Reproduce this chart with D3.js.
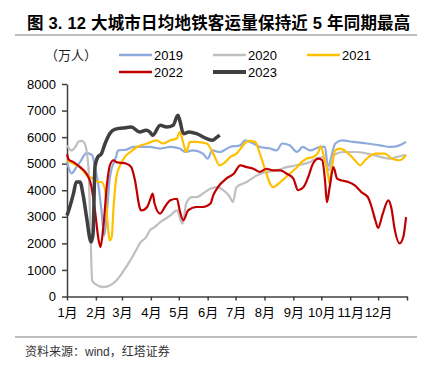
<!DOCTYPE html>
<html>
<head>
<meta charset="utf-8">
<script src="https://cdn.jsdelivr.net/npm/d3@7"></script>
<style>
  body { margin: 0; background: #fff; }
  text { font-family: "Liberation Sans", "Noto Sans CJK SC", sans-serif; }
</style>
</head>
<body>
<svg id="chart" width="437" height="365"></svg>
<script>
const years = ["2019", "2020", "2021", "2022", "2023"]
const colors = ["#8faadc", "#bfbfbf", "#ffc000", "#c00000", "#3f3f3f"]
const monthLabels = ["1月", "2月", "3月", "4月", "5月", "6月", "7月", "8月", "9月", "10月", "11月", "12月"]
const yTicks = [0, 1000, 2000, 3000, 4000, 5000, 6000, 7000, 8000]

// days since 1 Jan, daily subway passengers (万人)
const days2019 = [0,5,9,14,21,27,30,34,37,40,43,46,52,55,64,71,78,89,100,111,121,127,135,146,151,156,164,175,186,191,200,207,218,225,231,239,247,253,261,272,277,280,288,295,307,322,336,347,357,364]
const vals2019 = [5060,4630,4810,5060,5400,5320,4870,4120,3240,2300,3240,4500,5190,5500,5530,5630,5630,5630,5570,5630,5570,5440,5500,5380,5190,5500,5440,5630,5690,5880,5760,5630,5570,5500,5760,5690,5440,5630,5500,5630,5630,4900,5760,5880,5820,5760,5690,5630,5690,5820]

const days2020 = [0,5,9,12,16,19,23,25,27,30,39,46,53,61,68,74,78,85,89,94,98,103,111,118,124,128,134,139,148,154,161,168,175,178,182,193,204,214,225,236,247,261,264,275,281,286,297,311,329,347,357,364]
const vals2020 = [5690,5500,5630,5820,5860,5760,4870,2700,600,480,350,410,600,980,1360,1730,1990,2240,2490,2610,2740,2870,3050,3240,2740,3500,3740,3740,3930,4060,4120,4000,3740,3550,4120,4310,4560,4690,4750,4870,4940,5060,5130,5250,4750,5320,5440,5440,5320,5190,5280,5320]

const days2021 = [0,7,14,21,28,34,37,41,43,46,48,50,53,57,62,68,75,86,96,103,111,118,121,125,128,132,139,150,157,164,170,175,182,189,195,202,207,213,218,221,229,239,247,250,257,264,270,272,276,280,282,284,288,293,304,309,315,320,331,341,349,357,364]
const vals2021 = [5130,5000,4870,4560,4440,4310,4310,4000,2990,2110,2240,3370,4500,4940,5250,5440,5630,5760,5880,5760,5880,5950,6190,5760,5440,5820,5820,5760,5380,4940,5060,5250,5380,5690,5860,5820,5380,4750,4250,4120,4310,4620,4870,5000,5190,5250,5440,5650,5250,4620,4250,4750,5500,5570,5320,5130,4940,5130,5380,5380,5190,5130,5320]

const days2022 = [0,2,7,14,21,26,30,34,36,39,43,46,50,53,64,69,73,78,80,86,89,92,94,100,105,111,118,121,125,130,139,146,154,157,162,171,179,186,193,200,207,214,221,229,236,243,248,254,259,264,270,274,277,279,282,286,290,295,302,309,316,323,327,331,334,339,345,348,352,357,361,364]
const vals2022 = [5350,5150,5060,4870,4620,4180,3240,2110,1860,2610,4250,4940,5130,5060,5000,4870,4370,3350,3240,3370,3620,3870,3500,3120,3370,3620,3680,3240,2870,3240,3370,3370,3500,3810,4120,4440,4620,4940,4870,4810,4690,4810,4750,4750,4620,4440,4000,4120,4500,5000,5190,5130,4370,3550,4120,4870,4440,4370,4310,4180,3930,3740,3370,2870,2580,3120,3620,3370,2490,2000,2240,2990]

const days2023 = [0,3,7,10,14,17,21,25,26,28,30,33,37,41,46,52,60,69,78,85,89,92,100,107,114,119,121,125,131,139,150,156,161,164]
const vals2023 = [3050,3370,3880,4310,4310,3880,2990,2110,2050,2370,4870,5250,5380,5770,6140,6300,6340,6380,6190,6260,6190,6070,6450,6380,6450,6820,6640,6130,6190,6130,5940,5880,6000,6070]

const seriesDays = [days2019, days2020, days2021, days2022, days2023]
const seriesVals = [vals2019, vals2020, vals2021, vals2022, vals2023]

const svg = d3.select("#chart")
const start = new Date(2019, 0, 1)

const x = d3.scaleTime()
  .domain([start, new Date(2020, 0, 1)])
  .range([67, 407])
const y = d3.scaleLinear()
  .domain([0, 8000])
  .range([296.5, 84])

// title + rules
svg.append("text")
  .attr("x", 27).attr("y", 29)
  .attr("font-size", 16.5).attr("font-weight", "bold").attr("fill", "#000")
  .attr("letter-spacing", 0.2)
  .text("图 3. 12 大城市日均地铁客运量保持近 5 年同期最高")
svg.append("line")
  .attr("x1", 15).attr("x2", 417).attr("y1", 35).attr("y2", 35)
  .attr("stroke", "#7f7f7f").attr("stroke-width", 1.2)
svg.append("line")
  .attr("x1", 15).attr("x2", 417).attr("y1", 337).attr("y2", 337)
  .attr("stroke", "#7f7f7f").attr("stroke-width", 1.2)
svg.append("text")
  .attr("x", 25).attr("y", 356)
  .attr("font-size", 12).attr("fill", "#333")
  .text("资料来源：wind，红塔证券")

svg.append("text")
  .attr("x", 45).attr("y", 60)
  .attr("font-size", 13).attr("fill", "#222")
  .style("font-family", "'Noto Sans CJK SC', sans-serif")
  .text("（万人）")

// axes
const yAxis = svg.append("g")
  .attr("transform", "translate(67,0)")
  .call(d3.axisLeft(y).tickValues(yTicks).tickFormat(d3.format("d"))
    .tickSize(5).tickSizeOuter(0).tickPadding(6))
const xAxis = svg.append("g")
  .attr("transform", "translate(0,296.5)")
  .call(d3.axisBottom(x).ticks(d3.timeMonth.every(1)).tickSize(4).tickSizeOuter(0).tickPadding(7)
    .tickFormat((d, i) => monthLabels[i] || ""))

for (const ax of [xAxis, yAxis]) {
  ax.select(".domain").attr("stroke", "#404040").attr("stroke-width", 1.5)
  ax.selectAll(".tick line").attr("stroke", "#404040").attr("stroke-width", 1.5)
  ax.selectAll(".tick text").attr("font-size", 13).attr("fill", "#000")
    .style("font-family", "'Liberation Sans', 'Noto Sans CJK SC', sans-serif")
}

// lines
const line = d3.line()
  .x(d => x(d3.timeDay.offset(start, d[0])))
  .y(d => y(d[1]))
  .curve(d3.curveMonotoneX)

svg.append("g").selectAll("path")
  .data(years.map((yr, i) => ({ year: yr, points: d3.zip(seriesDays[i], seriesVals[i]) })))
  .enter().append("path")
    .attr("d", d => line(d.points))
    .attr("fill", "none")
    .attr("stroke", (d, i) => colors[i])
    .attr("stroke-width", (d, i) => i === 4 ? 3.5 : 2.2)
    .attr("stroke-linejoin", "round")

// legend
const legend = svg.append("g").selectAll("g")
  .data(years)
  .enter().append("g")
    .attr("transform", (d, i) => `translate(${119 + (i % 3) * 94},${55 + Math.floor(i / 3) * 17})`)
legend.append("line")
  .attr("x1", 0).attr("x2", 33).attr("y1", 0).attr("y2", 0)
  .attr("stroke", (d, i) => colors[i])
  .attr("stroke-width", (d, i) => i === 4 ? 4 : 2.5)
legend.append("text")
  .attr("x", 35).attr("y", 5)
  .attr("font-size", 13).attr("fill", "#000")
  .text(d => d)
</script>
</body>
</html>
